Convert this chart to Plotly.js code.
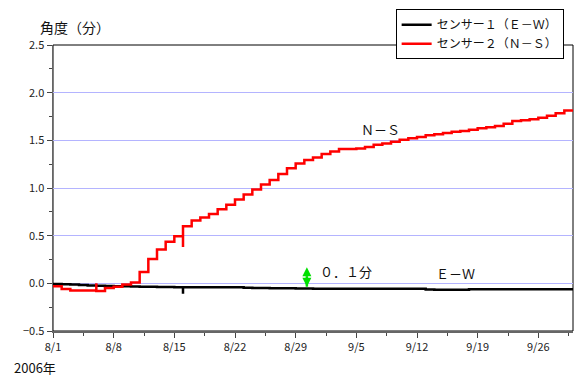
<!DOCTYPE html>
<html>
<head>
<meta charset="utf-8">
<script src="https://cdn.plot.ly/plotly-3.0.1.min.js"></script>
<style>html,body{margin:0;padding:0;background:#fff;}#chart{width:574px;height:376px;}</style>
</head>
<body>
<div id="chart"></div>
<script>
// E-W sensor (black)
const ewDates = ['2006-08-01','2006-08-02','2006-08-03','2006-08-04','2006-08-05','2006-08-06','2006-08-07','2006-08-08','2006-08-09','2006-08-10',
  '2006-08-11','2006-08-12','2006-08-13','2006-08-14','2006-08-15','2006-08-16','2006-08-16','2006-08-17','2006-08-18','2006-08-19',
  '2006-08-20','2006-08-21','2006-08-22','2006-08-23','2006-08-24','2006-08-25','2006-08-26','2006-08-27','2006-08-28','2006-08-29',
  '2006-08-30','2006-08-31','2006-09-01','2006-09-02','2006-09-03','2006-09-04','2006-09-05','2006-09-06','2006-09-07','2006-09-08',
  '2006-09-09','2006-09-10','2006-09-11','2006-09-12','2006-09-13','2006-09-14','2006-09-15','2006-09-16','2006-09-17','2006-09-18',
  '2006-09-19','2006-09-20','2006-09-21','2006-09-22','2006-09-23','2006-09-24','2006-09-25','2006-09-26','2006-09-27','2006-09-28',
  '2006-09-29','2006-09-30'];
const ewValues = [-0.008,-0.010,-0.012,-0.018,-0.022,-0.025,-0.027,-0.030,-0.031,-0.033,
  -0.036,-0.037,-0.038,-0.039,-0.040,-0.110,-0.040,-0.040,-0.041,-0.041,
  -0.041,-0.042,-0.042,-0.047,-0.050,-0.050,-0.051,-0.052,-0.052,-0.055,
  -0.055,-0.056,-0.056,-0.056,-0.057,-0.057,-0.057,-0.057,-0.057,-0.057,
  -0.057,-0.057,-0.057,-0.057,-0.065,-0.066,-0.067,-0.068,-0.068,-0.063,
  -0.063,-0.062,-0.062,-0.063,-0.062,-0.062,-0.062,-0.062,-0.062,-0.062,
  -0.062,-0.062];

// N-S sensor (red)
const nsDates = ['2006-08-01','2006-08-02','2006-08-03','2006-08-04','2006-08-05','2006-08-06','2006-08-06','2006-08-07','2006-08-08','2006-08-09',
  '2006-08-10','2006-08-11','2006-08-12','2006-08-13','2006-08-14','2006-08-15','2006-08-16','2006-08-16','2006-08-17','2006-08-18',
  '2006-08-19','2006-08-20','2006-08-21','2006-08-22','2006-08-23','2006-08-24','2006-08-25','2006-08-26','2006-08-27','2006-08-28',
  '2006-08-29','2006-08-30','2006-08-31','2006-09-01','2006-09-02','2006-09-03','2006-09-04','2006-09-05','2006-09-06','2006-09-07',
  '2006-09-08','2006-09-09','2006-09-10','2006-09-11','2006-09-12','2006-09-13','2006-09-14','2006-09-15','2006-09-16','2006-09-17',
  '2006-09-18','2006-09-19','2006-09-20','2006-09-21','2006-09-22','2006-09-23','2006-09-24','2006-09-25','2006-09-26','2006-09-27',
  '2006-09-28','2006-09-29','2006-09-30'];
const nsValues = [-0.030,-0.060,-0.075,-0.075,-0.075,0.000,-0.080,-0.050,-0.035,-0.012,
  0.008,0.120,0.255,0.355,0.435,0.495,0.380,0.600,0.660,0.690,
  0.727,0.776,0.825,0.880,0.932,0.984,1.036,1.085,1.148,1.206,
  1.258,1.293,1.320,1.356,1.383,1.408,1.410,1.415,1.430,1.453,
  1.467,1.484,1.505,1.523,1.536,1.554,1.564,1.578,1.589,1.599,
  1.610,1.627,1.638,1.651,1.675,1.703,1.710,1.720,1.737,1.758,
  1.783,1.814,1.825];

const seriesNames = ['センサー１（Ｅ－Ｗ）','センサー２（Ｎ－Ｓ）'];
const scaleArrowDates = ['2006-08-30 07:00', '2006-08-30 07:00'];
const scaleArrowY = [-0.035, 0.17];

const FONT = 'Noto Sans CJK JP, Liberation Sans, sans-serif';

const traces = [
  {x: ewDates, y: ewValues, name: seriesNames[0], type: 'scatter', mode: 'lines',
   line: {color: '#000000', width: 2.5, shape: 'hv'}},
  {x: nsDates, y: nsValues, name: seriesNames[1], type: 'scatter', mode: 'lines',
   line: {color: '#ff0000', width: 2.5, shape: 'hv'}},
  {x: scaleArrowDates, y: scaleArrowY, type: 'scatter', mode: 'lines+markers', showlegend: false,
   line: {color: '#00e000', width: 2.5},
   marker: {symbol: ['arrow-down', 'arrow-up'], size: 9, color: '#00e000', line: {width: 0}}}
];

const layout = {
  width: 574, height: 376,
  margin: {l: 53, r: 1, t: 45, b: 45},
  paper_bgcolor: '#ffffff', plot_bgcolor: '#ffffff',
  font: {family: FONT, size: 11, color: '#222'},
  showlegend: true,
  legend: {x: 0.982, xanchor: 'right', y: 1.125, yanchor: 'top',
    bgcolor: '#ffffff', bordercolor: '#000', borderwidth: 1,
    font: {family: FONT, size: 12, color: '#111'}, tracegroupgap: 0, itemwidth: 30},
  xaxis: {type: 'date', range: ['2006-08-01', '2006-09-30'],
    tick0: '2006-08-01', dtick: 7 * 86400000, tickformat: '%-m/%-d',
    ticks: 'outside', ticklen: 5, tickcolor: '#444', tickwidth: 1,
    showline: true, linecolor: '#666', linewidth: 1.5, showgrid: false, zeroline: false,
    tickfont: {family: FONT, size: 11, color: '#222'},
    minor: {tick0: '2006-08-01', dtick: 3.5 * 86400000, ticks: 'outside', ticklen: 3, tickcolor: '#444', showgrid: false}},
  yaxis: {range: [-0.5, 2.5], dtick: 0.5, tickformat: '.1f',
    ticks: 'outside', ticklen: 5, tickcolor: '#444',
    showline: true, linecolor: '#666', linewidth: 1.5,
    showgrid: true, gridcolor: '#b4b4ff', gridwidth: 1, zeroline: false,
    tickfont: {family: FONT, size: 11, color: '#222'},
    minor: {dtick: 0.25, ticks: 'outside', ticklen: 3, tickcolor: '#444', showgrid: false}},
  shapes: [
    {type: 'rect', xref: 'paper', yref: 'paper', x0: 0, x1: 1, y0: 0, y1: 1,
     line: {color: '#000', width: 1}, layer: 'below'}
  ],
  annotations: [
    {xref: 'paper', yref: 'paper', x: -0.029, y: 1.063, xanchor: 'left', yanchor: 'middle',
     text: '角度（分）', showarrow: false, font: {family: FONT, size: 14, color: '#111'}},
    {xref: 'paper', yref: 'paper', x: -0.079, y: -0.129, xanchor: 'left', yanchor: 'middle',
     text: '2006年', showarrow: false, font: {family: FONT, size: 13, color: '#111'}},
    {xref: 'x', yref: 'y', x: '2006-09-07 19:00', y: 1.61, text: 'Ｎ－Ｓ', showarrow: false,
     font: {family: FONT, size: 13, color: '#111'}},
    {xref: 'x', yref: 'y', x: '2006-09-16 10:00', y: 0.10, text: 'Ｅ－Ｗ', showarrow: false,
     font: {family: FONT, size: 13, color: '#111'}},
    {xref: 'x', yref: 'y', x: '2006-09-03 19:00', y: 0.12, text: '０．１分', showarrow: false,
     font: {family: FONT, size: 13, color: '#111'}}
  ]
};

Plotly.newPlot('chart', traces, layout, {displayModeBar: false, staticPlot: true});
</script>
</body>
</html>
